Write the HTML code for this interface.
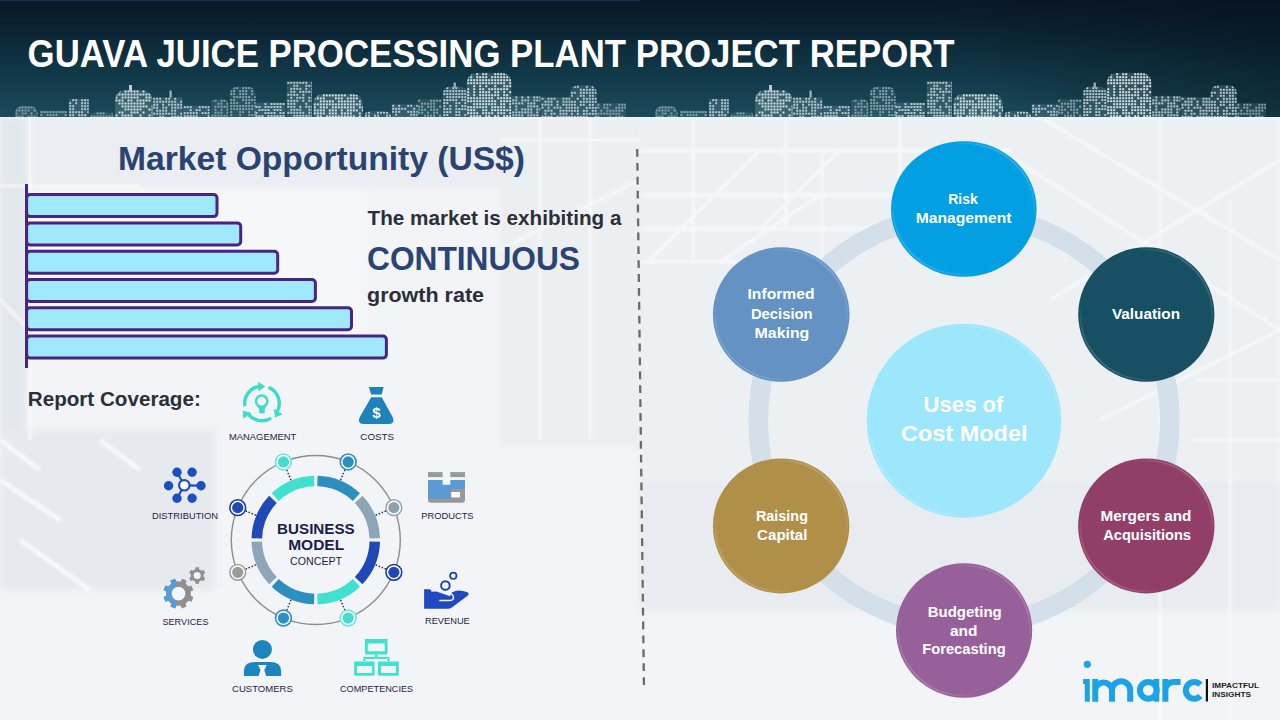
<!DOCTYPE html>
<html><head><meta charset="utf-8">
<style>
html,body{margin:0;padding:0;width:1280px;height:720px;overflow:hidden;background:#f1f3f6;}
svg{display:block;}
text{font-family:"Liberation Sans",sans-serif;}
</style></head>
<body>
<svg width="1280" height="720" viewBox="0 0 1280 720">
<defs>
  <linearGradient id="hdr" x1="0" y1="0" x2="0" y2="1">
    <stop offset="0" stop-color="#0a1828"/>
    <stop offset="0.3" stop-color="#0c2636"/>
    <stop offset="0.6" stop-color="#113747"/>
    <stop offset="1" stop-color="#1b4a5a"/>
  </linearGradient>
  <pattern id="win" width="3" height="3" patternUnits="userSpaceOnUse">
    <rect width="3" height="3" fill="#5f8592"/>
    <rect width="2" height="2" fill="#c4d8de"/>
  </pattern>
  <linearGradient id="bgL" x1="0" y1="0" x2="0" y2="1">
    <stop offset="0" stop-color="#eef1f5"/>
    <stop offset="1" stop-color="#f4f6f8"/>
  </linearGradient>
  <clipPath id="hdrclip"><rect x="0" y="0" width="1280" height="117"/></clipPath>
  <pattern id="wb" width="3" height="3" patternUnits="userSpaceOnUse"><rect width="3" height="3" fill="#2c5866"/><rect width="2" height="2" fill="#d2e2e6"/></pattern>
  <pattern id="wm" width="3" height="3" patternUnits="userSpaceOnUse"><rect width="3" height="3" fill="#24505e"/><rect width="2" height="1.8" fill="#a9c2ca"/></pattern>
  <pattern id="wd" width="3" height="3" patternUnits="userSpaceOnUse"><rect width="3" height="3" fill="#285463"/><rect width="2" height="2" fill="#7d9ea8"/></pattern>
  <filter id="blur6" x="-20%" y="-20%" width="140%" height="140%"><feGaussianBlur stdDeviation="6"/></filter>
  <linearGradient id="bev" x1="0" y1="1" x2="1" y2="0">
    <stop offset="0" stop-color="#ffffff" stop-opacity="0.35"/>
    <stop offset="0.3" stop-color="#ffffff" stop-opacity="0"/>
    <stop offset="0.7" stop-color="#ffffff" stop-opacity="0"/>
    <stop offset="1" stop-color="#ffffff" stop-opacity="0.35"/>
  </linearGradient>
  <filter id="blur3" x="-10%" y="-10%" width="120%" height="120%"><feGaussianBlur stdDeviation="3"/></filter>
  <filter id="blur1" x="-5%" y="-5%" width="110%" height="110%"><feGaussianBlur stdDeviation="1"/></filter>
  <linearGradient id="hdr2" gradientUnits="userSpaceOnUse" x1="1000" y1="110" x2="1200" y2="-40">
    <stop offset="0" stop-color="#050d18" stop-opacity="0"/>
    <stop offset="1" stop-color="#050d18" stop-opacity="0.45"/>
  </linearGradient>
</defs>

<!-- background -->
<rect x="0" y="117" width="1280" height="603" fill="#f2f4f7"/>
<g filter="url(#blur3)">
  <rect x="640" y="117" width="640" height="360" fill="#edf0f3"/>
  <rect x="640" y="480" width="640" height="130" fill="#e8ecf0"/>
  <rect x="0" y="117" width="640" height="70" fill="#eaedf1"/>
  <rect x="0" y="117" width="26" height="460" fill="#e2e7ec"/>
  <rect x="0" y="430" width="215" height="160" fill="#e6eaee"/>
  <rect x="500" y="117" width="140" height="330" fill="#eceff2"/>
  <rect x="34" y="190" width="330" height="170" fill="#f5f7f9"/>
</g>
<g stroke="#f8fafb" fill="none" filter="url(#blur1)" opacity="0.85">
  <path d="M640,150.5 H1010 M640,195 H900 M640,229 H880 M640,262 H760" stroke-width="3.5"/>
  <path d="M693,117 V262 M786,117 V229 M822,150 V262 M900,117 V229" stroke-width="3"/>
  <path d="M650,260 L760,150 M720,262 L820,195 M760,229 L840,150 M1000,150 L1280,330 M1040,117 L1280,260 M1050,300 L1280,160 M1100,420 L1280,330" stroke-width="3"/>
  <path d="M1160,117 V720 M1230,200 V720 M1195,380 H1280 M1195,440 H1280" stroke-width="2.5"/>
  <path d="M0,186 H140 M30,117 V440 M0,300 L30,330 M500,140 H640 M540,117 V440 M590,117 V440 M500,250 L640,180" stroke-width="3"/>
  <path d="M0,440 L40,470 M0,480 L60,520 M20,540 L90,590 M100,440 L140,470" stroke-width="5"/>
</g>
<rect x="640" y="117" width="640" height="2.5" fill="#e6f6fb"/>
<!-- header -->
<rect x="0" y="0" width="1280" height="117" fill="url(#hdr)"/>
<rect x="0" y="0" width="1280" height="117" fill="url(#hdr2)"/>
<rect x="0" y="0" width="640" height="1" fill="#1e2b48"/><rect x="0" y="1" width="640" height="1.5" fill="#0b1736"/>
<g clip-path="url(#hdrclip)"><defs><g id="tile"><clipPath id="b0"><rect x="15" y="106" width="22.50" height="23.00" rx="6.8"/></clipPath><clipPath id="b1"><rect x="40" y="110.6" width="27.50" height="6.40"/></clipPath><clipPath id="b2"><rect x="68.75" y="98.75" width="20.00" height="18.25"/></clipPath><clipPath id="b3"><rect x="90" y="111.9" width="23.75" height="17.10" rx="8.3" ry="3"/></clipPath><clipPath id="b4"><rect x="115" y="90" width="37.50" height="39.00" rx="10.0"/></clipPath><clipPath id="b5"><rect x="152.7" y="97.2" width="29.80" height="19.80"/></clipPath><clipPath id="b6"><rect x="183.2" y="105.6" width="26.60" height="11.40"/></clipPath><clipPath id="b7"><rect x="211" y="99.2" width="17.40" height="29.80" rx="5.2"/></clipPath><clipPath id="b8"><rect x="229.7" y="86.6" width="25.90" height="42.40" rx="7.8"/></clipPath><clipPath id="b9"><rect x="255" y="102.5" width="30.50" height="14.50"/></clipPath><clipPath id="b10"><rect x="286.8" y="81.3" width="25.20" height="35.70"/></clipPath><clipPath id="b11"><rect x="313.3" y="93.9" width="49.70" height="35.10" rx="10.0"/></clipPath><clipPath id="b12"><rect x="364.5" y="111.2" width="26.50" height="17.80" rx="9.3" ry="3"/></clipPath><clipPath id="b13"><rect x="391.7" y="104.3" width="25.90" height="12.70"/></clipPath><clipPath id="b14"><rect x="417.6" y="99.2" width="24.50" height="17.80"/></clipPath><clipPath id="b15"><rect x="442.8" y="86.6" width="23.90" height="42.40" rx="7.2"/></clipPath><clipPath id="b16"><rect x="466.7" y="72.7" width="44.80" height="56.30" rx="10.0"/></clipPath><clipPath id="b17"><rect x="511.8" y="95.9" width="28.60" height="21.10"/></clipPath><clipPath id="b18"><rect x="541" y="97.2" width="29.30" height="19.80"/></clipPath><clipPath id="b19"><rect x="570.3" y="85.3" width="26.50" height="43.70" rx="7.9"/></clipPath><clipPath id="b20"><rect x="596.8" y="103.2" width="29.20" height="13.80"/></clipPath>
<rect x="15" y="106" width="22.50" height="23.00" rx="6.8" fill="#83a2ab" fill-opacity="0.18"/>
<g clip-path="url(#b0)" fill="#83a2ab"><rect x="15.5" y="106.5" width="2" height="2"/><rect x="18.5" y="106.5" width="2" height="2"/><rect x="21.5" y="106.5" width="2" height="2"/><rect x="24.5" y="106.5" width="2" height="2"/><rect x="27.5" y="106.5" width="2" height="2"/><rect x="30.5" y="106.5" width="2" height="2"/><rect x="33.5" y="106.5" width="2" height="2"/><rect x="36.5" y="106.5" width="2" height="2"/><rect x="15.5" y="109.5" width="2" height="2"/><rect x="18.5" y="109.5" width="2" height="2"/><rect x="21.5" y="109.5" width="2" height="2"/><rect x="24.5" y="109.5" width="2" height="2"/><rect x="27.5" y="109.5" width="2" height="2"/><rect x="33.5" y="109.5" width="2" height="2"/><rect x="36.5" y="109.5" width="2" height="2"/><rect x="15.5" y="112.5" width="2" height="2"/><rect x="21.5" y="112.5" width="2" height="2"/><rect x="24.5" y="112.5" width="2" height="2"/><rect x="30.5" y="112.5" width="2" height="2"/><rect x="36.5" y="112.5" width="2" height="2"/><rect x="15.5" y="115.5" width="2" height="2"/><rect x="18.5" y="115.5" width="2" height="2"/><rect x="21.5" y="115.5" width="2" height="2"/><rect x="27.5" y="115.5" width="2" height="2"/><rect x="30.5" y="115.5" width="2" height="2"/><rect x="33.5" y="115.5" width="2" height="2"/><rect x="36.5" y="115.5" width="2" height="2"/></g>
<rect x="40" y="110.6" width="27.50" height="6.40" fill="#83a2ab" fill-opacity="0.18"/>
<g clip-path="url(#b1)" fill="#83a2ab"><rect x="40.5" y="111.1" width="2" height="2"/><rect x="43.5" y="111.1" width="2" height="2"/><rect x="46.5" y="111.1" width="2" height="2"/><rect x="49.5" y="111.1" width="2" height="2"/><rect x="52.5" y="111.1" width="2" height="2"/><rect x="55.5" y="111.1" width="2" height="2"/><rect x="58.5" y="111.1" width="2" height="2"/><rect x="61.5" y="111.1" width="2" height="2"/><rect x="64.5" y="111.1" width="2" height="2"/><rect x="40.5" y="114.1" width="2" height="2"/><rect x="46.5" y="114.1" width="2" height="2"/><rect x="49.5" y="114.1" width="2" height="2"/><rect x="52.5" y="114.1" width="2" height="2"/><rect x="55.5" y="114.1" width="2" height="2"/><rect x="64.5" y="114.1" width="2" height="2"/></g>
<rect x="68.75" y="98.75" width="20.00" height="18.25" fill="#b3c9d0" fill-opacity="0.18"/>
<g clip-path="url(#b2)" fill="#b3c9d0"><rect x="72.2" y="99.2" width="2" height="2"/><rect x="75.2" y="99.2" width="2" height="2"/><rect x="81.2" y="99.2" width="2" height="2"/><rect x="84.2" y="99.2" width="2" height="2"/><rect x="87.2" y="99.2" width="2" height="2"/><rect x="69.2" y="102.2" width="2" height="2"/><rect x="75.2" y="102.2" width="2" height="2"/><rect x="81.2" y="102.2" width="2" height="2"/><rect x="84.2" y="102.2" width="2" height="2"/><rect x="87.2" y="102.2" width="2" height="2"/><rect x="69.2" y="105.2" width="2" height="2"/><rect x="72.2" y="105.2" width="2" height="2"/><rect x="81.2" y="105.2" width="2" height="2"/><rect x="84.2" y="105.2" width="2" height="2"/><rect x="87.2" y="105.2" width="2" height="2"/><rect x="69.2" y="108.2" width="2" height="2"/><rect x="72.2" y="108.2" width="2" height="2"/><rect x="81.2" y="108.2" width="2" height="2"/><rect x="84.2" y="108.2" width="2" height="2"/><rect x="87.2" y="108.2" width="2" height="2"/><rect x="69.2" y="111.2" width="2" height="2"/><rect x="72.2" y="111.2" width="2" height="2"/><rect x="75.2" y="111.2" width="2" height="2"/><rect x="78.2" y="111.2" width="2" height="2"/><rect x="81.2" y="111.2" width="2" height="2"/><rect x="87.2" y="111.2" width="2" height="2"/><rect x="69.2" y="114.2" width="2" height="2"/><rect x="72.2" y="114.2" width="2" height="2"/><rect x="78.2" y="114.2" width="2" height="2"/><rect x="81.2" y="114.2" width="2" height="2"/><rect x="84.2" y="114.2" width="2" height="2"/></g>
<rect x="90" y="111.9" width="23.75" height="17.10" rx="8.3" ry="3" fill="#83a2ab" fill-opacity="0.18"/>
<g clip-path="url(#b3)" fill="#83a2ab"><rect x="96.5" y="112.4" width="2" height="2"/><rect x="99.5" y="112.4" width="2" height="2"/><rect x="102.5" y="112.4" width="2" height="2"/><rect x="111.5" y="112.4" width="2" height="2"/><rect x="90.5" y="115.4" width="2" height="2"/><rect x="93.5" y="115.4" width="2" height="2"/><rect x="96.5" y="115.4" width="2" height="2"/><rect x="99.5" y="115.4" width="2" height="2"/><rect x="102.5" y="115.4" width="2" height="2"/><rect x="105.5" y="115.4" width="2" height="2"/><rect x="108.5" y="115.4" width="2" height="2"/><rect x="111.5" y="115.4" width="2" height="2"/></g>
<rect x="115" y="90" width="37.50" height="39.00" rx="10.0" fill="#d3e2e6" fill-opacity="0.18"/>
<g clip-path="url(#b4)" fill="#d3e2e6"><rect x="115.5" y="90.5" width="2" height="2"/><rect x="118.5" y="90.5" width="2" height="2"/><rect x="124.5" y="90.5" width="2" height="2"/><rect x="127.5" y="90.5" width="2" height="2"/><rect x="130.5" y="90.5" width="2" height="2"/><rect x="133.5" y="90.5" width="2" height="2"/><rect x="136.5" y="90.5" width="2" height="2"/><rect x="142.5" y="90.5" width="2" height="2"/><rect x="151.5" y="90.5" width="2" height="2"/><rect x="115.5" y="93.5" width="2" height="2"/><rect x="118.5" y="93.5" width="2" height="2"/><rect x="121.5" y="93.5" width="2" height="2"/><rect x="124.5" y="93.5" width="2" height="2"/><rect x="127.5" y="93.5" width="2" height="2"/><rect x="130.5" y="93.5" width="2" height="2"/><rect x="133.5" y="93.5" width="2" height="2"/><rect x="136.5" y="93.5" width="2" height="2"/><rect x="139.5" y="93.5" width="2" height="2"/><rect x="142.5" y="93.5" width="2" height="2"/><rect x="145.5" y="93.5" width="2" height="2"/><rect x="148.5" y="93.5" width="2" height="2"/><rect x="151.5" y="93.5" width="2" height="2"/><rect x="115.5" y="96.5" width="2" height="2"/><rect x="121.5" y="96.5" width="2" height="2"/><rect x="124.5" y="96.5" width="2" height="2"/><rect x="127.5" y="96.5" width="2" height="2"/><rect x="130.5" y="96.5" width="2" height="2"/><rect x="133.5" y="96.5" width="2" height="2"/><rect x="136.5" y="96.5" width="2" height="2"/><rect x="145.5" y="96.5" width="2" height="2"/><rect x="148.5" y="96.5" width="2" height="2"/><rect x="151.5" y="96.5" width="2" height="2"/><rect x="115.5" y="99.5" width="2" height="2"/><rect x="118.5" y="99.5" width="2" height="2"/><rect x="121.5" y="99.5" width="2" height="2"/><rect x="127.5" y="99.5" width="2" height="2"/><rect x="130.5" y="99.5" width="2" height="2"/><rect x="136.5" y="99.5" width="2" height="2"/><rect x="139.5" y="99.5" width="2" height="2"/><rect x="142.5" y="99.5" width="2" height="2"/><rect x="145.5" y="99.5" width="2" height="2"/><rect x="148.5" y="99.5" width="2" height="2"/><rect x="118.5" y="102.5" width="2" height="2"/><rect x="121.5" y="102.5" width="2" height="2"/><rect x="124.5" y="102.5" width="2" height="2"/><rect x="127.5" y="102.5" width="2" height="2"/><rect x="130.5" y="102.5" width="2" height="2"/><rect x="133.5" y="102.5" width="2" height="2"/><rect x="136.5" y="102.5" width="2" height="2"/><rect x="139.5" y="102.5" width="2" height="2"/><rect x="142.5" y="102.5" width="2" height="2"/><rect x="121.5" y="105.5" width="2" height="2"/><rect x="124.5" y="105.5" width="2" height="2"/><rect x="127.5" y="105.5" width="2" height="2"/><rect x="130.5" y="105.5" width="2" height="2"/><rect x="133.5" y="105.5" width="2" height="2"/><rect x="136.5" y="105.5" width="2" height="2"/><rect x="139.5" y="105.5" width="2" height="2"/><rect x="142.5" y="105.5" width="2" height="2"/><rect x="145.5" y="105.5" width="2" height="2"/><rect x="151.5" y="105.5" width="2" height="2"/><rect x="124.5" y="108.5" width="2" height="2"/><rect x="127.5" y="108.5" width="2" height="2"/><rect x="130.5" y="108.5" width="2" height="2"/><rect x="133.5" y="108.5" width="2" height="2"/><rect x="136.5" y="108.5" width="2" height="2"/><rect x="139.5" y="108.5" width="2" height="2"/><rect x="148.5" y="108.5" width="2" height="2"/><rect x="151.5" y="108.5" width="2" height="2"/><rect x="118.5" y="111.5" width="2" height="2"/><rect x="121.5" y="111.5" width="2" height="2"/><rect x="130.5" y="111.5" width="2" height="2"/><rect x="133.5" y="111.5" width="2" height="2"/><rect x="136.5" y="111.5" width="2" height="2"/><rect x="142.5" y="111.5" width="2" height="2"/><rect x="151.5" y="111.5" width="2" height="2"/><rect x="115.5" y="114.5" width="2" height="2"/><rect x="121.5" y="114.5" width="2" height="2"/><rect x="124.5" y="114.5" width="2" height="2"/><rect x="127.5" y="114.5" width="2" height="2"/><rect x="130.5" y="114.5" width="2" height="2"/><rect x="139.5" y="114.5" width="2" height="2"/><rect x="148.5" y="114.5" width="2" height="2"/><rect x="151.5" y="114.5" width="2" height="2"/></g>
<rect x="152.7" y="97.2" width="29.80" height="19.80" fill="#b3c9d0" fill-opacity="0.18"/>
<g clip-path="url(#b5)" fill="#b3c9d0"><rect x="153.2" y="97.7" width="2" height="2"/><rect x="156.2" y="97.7" width="2" height="2"/><rect x="159.2" y="97.7" width="2" height="2"/><rect x="165.2" y="97.7" width="2" height="2"/><rect x="168.2" y="97.7" width="2" height="2"/><rect x="174.2" y="97.7" width="2" height="2"/><rect x="153.2" y="100.7" width="2" height="2"/><rect x="156.2" y="100.7" width="2" height="2"/><rect x="159.2" y="100.7" width="2" height="2"/><rect x="162.2" y="100.7" width="2" height="2"/><rect x="165.2" y="100.7" width="2" height="2"/><rect x="168.2" y="100.7" width="2" height="2"/><rect x="171.2" y="100.7" width="2" height="2"/><rect x="174.2" y="100.7" width="2" height="2"/><rect x="180.2" y="100.7" width="2" height="2"/><rect x="153.2" y="103.7" width="2" height="2"/><rect x="156.2" y="103.7" width="2" height="2"/><rect x="162.2" y="103.7" width="2" height="2"/><rect x="168.2" y="103.7" width="2" height="2"/><rect x="171.2" y="103.7" width="2" height="2"/><rect x="174.2" y="103.7" width="2" height="2"/><rect x="177.2" y="103.7" width="2" height="2"/><rect x="180.2" y="103.7" width="2" height="2"/><rect x="153.2" y="106.7" width="2" height="2"/><rect x="156.2" y="106.7" width="2" height="2"/><rect x="162.2" y="106.7" width="2" height="2"/><rect x="165.2" y="106.7" width="2" height="2"/><rect x="171.2" y="106.7" width="2" height="2"/><rect x="174.2" y="106.7" width="2" height="2"/><rect x="177.2" y="106.7" width="2" height="2"/><rect x="180.2" y="106.7" width="2" height="2"/><rect x="156.2" y="109.7" width="2" height="2"/><rect x="159.2" y="109.7" width="2" height="2"/><rect x="162.2" y="109.7" width="2" height="2"/><rect x="165.2" y="109.7" width="2" height="2"/><rect x="171.2" y="109.7" width="2" height="2"/><rect x="174.2" y="109.7" width="2" height="2"/><rect x="153.2" y="112.7" width="2" height="2"/><rect x="156.2" y="112.7" width="2" height="2"/><rect x="159.2" y="112.7" width="2" height="2"/><rect x="162.2" y="112.7" width="2" height="2"/><rect x="165.2" y="112.7" width="2" height="2"/><rect x="168.2" y="112.7" width="2" height="2"/><rect x="171.2" y="112.7" width="2" height="2"/><rect x="174.2" y="112.7" width="2" height="2"/><rect x="180.2" y="112.7" width="2" height="2"/><rect x="159.2" y="115.7" width="2" height="2"/><rect x="162.2" y="115.7" width="2" height="2"/><rect x="171.2" y="115.7" width="2" height="2"/><rect x="174.2" y="115.7" width="2" height="2"/><rect x="177.2" y="115.7" width="2" height="2"/><rect x="180.2" y="115.7" width="2" height="2"/></g>
<rect x="183.2" y="105.6" width="26.60" height="11.40" fill="#b3c9d0" fill-opacity="0.18"/>
<g clip-path="url(#b6)" fill="#b3c9d0"><rect x="183.7" y="106.1" width="2" height="2"/><rect x="186.7" y="106.1" width="2" height="2"/><rect x="189.7" y="106.1" width="2" height="2"/><rect x="198.7" y="106.1" width="2" height="2"/><rect x="201.7" y="106.1" width="2" height="2"/><rect x="204.7" y="106.1" width="2" height="2"/><rect x="207.7" y="106.1" width="2" height="2"/><rect x="189.7" y="109.1" width="2" height="2"/><rect x="195.7" y="109.1" width="2" height="2"/><rect x="198.7" y="109.1" width="2" height="2"/><rect x="207.7" y="109.1" width="2" height="2"/><rect x="183.7" y="112.1" width="2" height="2"/><rect x="186.7" y="112.1" width="2" height="2"/><rect x="189.7" y="112.1" width="2" height="2"/><rect x="192.7" y="112.1" width="2" height="2"/><rect x="195.7" y="112.1" width="2" height="2"/><rect x="201.7" y="112.1" width="2" height="2"/><rect x="204.7" y="112.1" width="2" height="2"/><rect x="207.7" y="112.1" width="2" height="2"/><rect x="183.7" y="115.1" width="2" height="2"/><rect x="186.7" y="115.1" width="2" height="2"/><rect x="189.7" y="115.1" width="2" height="2"/><rect x="192.7" y="115.1" width="2" height="2"/><rect x="195.7" y="115.1" width="2" height="2"/><rect x="207.7" y="115.1" width="2" height="2"/></g>
<rect x="211" y="99.2" width="17.40" height="29.80" rx="5.2" fill="#83a2ab" fill-opacity="0.18"/>
<g clip-path="url(#b7)" fill="#83a2ab"><rect x="211.5" y="99.7" width="2" height="2"/><rect x="214.5" y="99.7" width="2" height="2"/><rect x="220.5" y="99.7" width="2" height="2"/><rect x="223.5" y="99.7" width="2" height="2"/><rect x="226.5" y="99.7" width="2" height="2"/><rect x="217.5" y="102.7" width="2" height="2"/><rect x="220.5" y="102.7" width="2" height="2"/><rect x="226.5" y="102.7" width="2" height="2"/><rect x="214.5" y="105.7" width="2" height="2"/><rect x="217.5" y="105.7" width="2" height="2"/><rect x="220.5" y="105.7" width="2" height="2"/><rect x="223.5" y="105.7" width="2" height="2"/><rect x="226.5" y="105.7" width="2" height="2"/><rect x="214.5" y="108.7" width="2" height="2"/><rect x="220.5" y="108.7" width="2" height="2"/><rect x="226.5" y="108.7" width="2" height="2"/><rect x="214.5" y="111.7" width="2" height="2"/><rect x="217.5" y="111.7" width="2" height="2"/><rect x="220.5" y="111.7" width="2" height="2"/><rect x="226.5" y="111.7" width="2" height="2"/><rect x="211.5" y="114.7" width="2" height="2"/><rect x="214.5" y="114.7" width="2" height="2"/><rect x="217.5" y="114.7" width="2" height="2"/><rect x="220.5" y="114.7" width="2" height="2"/><rect x="223.5" y="114.7" width="2" height="2"/><rect x="226.5" y="114.7" width="2" height="2"/></g>
<rect x="229.7" y="86.6" width="25.90" height="42.40" rx="7.8" fill="#83a2ab" fill-opacity="0.18"/>
<g clip-path="url(#b8)" fill="#83a2ab"><rect x="230.2" y="87.1" width="2" height="2"/><rect x="233.2" y="87.1" width="2" height="2"/><rect x="236.2" y="87.1" width="2" height="2"/><rect x="242.2" y="87.1" width="2" height="2"/><rect x="245.2" y="87.1" width="2" height="2"/><rect x="248.2" y="87.1" width="2" height="2"/><rect x="251.2" y="87.1" width="2" height="2"/><rect x="254.2" y="87.1" width="2" height="2"/><rect x="230.2" y="90.1" width="2" height="2"/><rect x="233.2" y="90.1" width="2" height="2"/><rect x="239.2" y="90.1" width="2" height="2"/><rect x="242.2" y="90.1" width="2" height="2"/><rect x="245.2" y="90.1" width="2" height="2"/><rect x="251.2" y="90.1" width="2" height="2"/><rect x="230.2" y="93.1" width="2" height="2"/><rect x="233.2" y="93.1" width="2" height="2"/><rect x="239.2" y="93.1" width="2" height="2"/><rect x="242.2" y="93.1" width="2" height="2"/><rect x="245.2" y="93.1" width="2" height="2"/><rect x="251.2" y="93.1" width="2" height="2"/><rect x="233.2" y="96.1" width="2" height="2"/><rect x="236.2" y="96.1" width="2" height="2"/><rect x="239.2" y="96.1" width="2" height="2"/><rect x="242.2" y="96.1" width="2" height="2"/><rect x="245.2" y="96.1" width="2" height="2"/><rect x="248.2" y="96.1" width="2" height="2"/><rect x="254.2" y="96.1" width="2" height="2"/><rect x="230.2" y="99.1" width="2" height="2"/><rect x="233.2" y="99.1" width="2" height="2"/><rect x="242.2" y="99.1" width="2" height="2"/><rect x="245.2" y="99.1" width="2" height="2"/><rect x="248.2" y="99.1" width="2" height="2"/><rect x="251.2" y="99.1" width="2" height="2"/><rect x="254.2" y="99.1" width="2" height="2"/><rect x="230.2" y="102.1" width="2" height="2"/><rect x="233.2" y="102.1" width="2" height="2"/><rect x="236.2" y="102.1" width="2" height="2"/><rect x="245.2" y="102.1" width="2" height="2"/><rect x="248.2" y="102.1" width="2" height="2"/><rect x="254.2" y="102.1" width="2" height="2"/><rect x="230.2" y="105.1" width="2" height="2"/><rect x="233.2" y="105.1" width="2" height="2"/><rect x="236.2" y="105.1" width="2" height="2"/><rect x="239.2" y="105.1" width="2" height="2"/><rect x="242.2" y="105.1" width="2" height="2"/><rect x="245.2" y="105.1" width="2" height="2"/><rect x="248.2" y="105.1" width="2" height="2"/><rect x="251.2" y="105.1" width="2" height="2"/><rect x="254.2" y="105.1" width="2" height="2"/><rect x="230.2" y="108.1" width="2" height="2"/><rect x="233.2" y="108.1" width="2" height="2"/><rect x="236.2" y="108.1" width="2" height="2"/><rect x="239.2" y="108.1" width="2" height="2"/><rect x="242.2" y="108.1" width="2" height="2"/><rect x="245.2" y="108.1" width="2" height="2"/><rect x="248.2" y="108.1" width="2" height="2"/><rect x="251.2" y="108.1" width="2" height="2"/><rect x="230.2" y="111.1" width="2" height="2"/><rect x="239.2" y="111.1" width="2" height="2"/><rect x="242.2" y="111.1" width="2" height="2"/><rect x="248.2" y="111.1" width="2" height="2"/><rect x="254.2" y="111.1" width="2" height="2"/><rect x="230.2" y="114.1" width="2" height="2"/><rect x="239.2" y="114.1" width="2" height="2"/><rect x="248.2" y="114.1" width="2" height="2"/><rect x="251.2" y="114.1" width="2" height="2"/><rect x="254.2" y="114.1" width="2" height="2"/></g>
<rect x="255" y="102.5" width="30.50" height="14.50" fill="#b3c9d0" fill-opacity="0.18"/>
<g clip-path="url(#b9)" fill="#b3c9d0"><rect x="264.5" y="103.0" width="2" height="2"/><rect x="270.5" y="103.0" width="2" height="2"/><rect x="273.5" y="103.0" width="2" height="2"/><rect x="276.5" y="103.0" width="2" height="2"/><rect x="279.5" y="103.0" width="2" height="2"/><rect x="282.5" y="103.0" width="2" height="2"/><rect x="255.5" y="106.0" width="2" height="2"/><rect x="258.5" y="106.0" width="2" height="2"/><rect x="264.5" y="106.0" width="2" height="2"/><rect x="267.5" y="106.0" width="2" height="2"/><rect x="270.5" y="106.0" width="2" height="2"/><rect x="273.5" y="106.0" width="2" height="2"/><rect x="276.5" y="106.0" width="2" height="2"/><rect x="279.5" y="106.0" width="2" height="2"/><rect x="258.5" y="109.0" width="2" height="2"/><rect x="261.5" y="109.0" width="2" height="2"/><rect x="264.5" y="109.0" width="2" height="2"/><rect x="267.5" y="109.0" width="2" height="2"/><rect x="273.5" y="109.0" width="2" height="2"/><rect x="276.5" y="109.0" width="2" height="2"/><rect x="279.5" y="109.0" width="2" height="2"/><rect x="255.5" y="112.0" width="2" height="2"/><rect x="264.5" y="112.0" width="2" height="2"/><rect x="267.5" y="112.0" width="2" height="2"/><rect x="270.5" y="112.0" width="2" height="2"/><rect x="273.5" y="112.0" width="2" height="2"/><rect x="279.5" y="112.0" width="2" height="2"/><rect x="282.5" y="112.0" width="2" height="2"/><rect x="255.5" y="115.0" width="2" height="2"/><rect x="258.5" y="115.0" width="2" height="2"/><rect x="261.5" y="115.0" width="2" height="2"/><rect x="267.5" y="115.0" width="2" height="2"/><rect x="270.5" y="115.0" width="2" height="2"/><rect x="273.5" y="115.0" width="2" height="2"/><rect x="276.5" y="115.0" width="2" height="2"/><rect x="279.5" y="115.0" width="2" height="2"/><rect x="282.5" y="115.0" width="2" height="2"/></g>
<rect x="286.8" y="81.3" width="25.20" height="35.70" fill="#b3c9d0" fill-opacity="0.18"/>
<g clip-path="url(#b10)" fill="#b3c9d0"><rect x="287.3" y="81.8" width="2" height="2"/><rect x="290.3" y="81.8" width="2" height="2"/><rect x="293.3" y="81.8" width="2" height="2"/><rect x="296.3" y="81.8" width="2" height="2"/><rect x="299.3" y="81.8" width="2" height="2"/><rect x="302.3" y="81.8" width="2" height="2"/><rect x="305.3" y="81.8" width="2" height="2"/><rect x="311.3" y="81.8" width="2" height="2"/><rect x="293.3" y="84.8" width="2" height="2"/><rect x="296.3" y="84.8" width="2" height="2"/><rect x="305.3" y="84.8" width="2" height="2"/><rect x="308.3" y="84.8" width="2" height="2"/><rect x="311.3" y="84.8" width="2" height="2"/><rect x="290.3" y="87.8" width="2" height="2"/><rect x="293.3" y="87.8" width="2" height="2"/><rect x="296.3" y="87.8" width="2" height="2"/><rect x="299.3" y="87.8" width="2" height="2"/><rect x="305.3" y="87.8" width="2" height="2"/><rect x="311.3" y="87.8" width="2" height="2"/><rect x="290.3" y="90.8" width="2" height="2"/><rect x="293.3" y="90.8" width="2" height="2"/><rect x="299.3" y="90.8" width="2" height="2"/><rect x="302.3" y="90.8" width="2" height="2"/><rect x="305.3" y="90.8" width="2" height="2"/><rect x="308.3" y="90.8" width="2" height="2"/><rect x="311.3" y="90.8" width="2" height="2"/><rect x="287.3" y="93.8" width="2" height="2"/><rect x="290.3" y="93.8" width="2" height="2"/><rect x="293.3" y="93.8" width="2" height="2"/><rect x="296.3" y="93.8" width="2" height="2"/><rect x="302.3" y="93.8" width="2" height="2"/><rect x="311.3" y="93.8" width="2" height="2"/><rect x="290.3" y="96.8" width="2" height="2"/><rect x="296.3" y="96.8" width="2" height="2"/><rect x="299.3" y="96.8" width="2" height="2"/><rect x="302.3" y="96.8" width="2" height="2"/><rect x="308.3" y="96.8" width="2" height="2"/><rect x="311.3" y="96.8" width="2" height="2"/><rect x="287.3" y="99.8" width="2" height="2"/><rect x="290.3" y="99.8" width="2" height="2"/><rect x="293.3" y="99.8" width="2" height="2"/><rect x="296.3" y="99.8" width="2" height="2"/><rect x="302.3" y="99.8" width="2" height="2"/><rect x="308.3" y="99.8" width="2" height="2"/><rect x="311.3" y="99.8" width="2" height="2"/><rect x="287.3" y="102.8" width="2" height="2"/><rect x="290.3" y="102.8" width="2" height="2"/><rect x="293.3" y="102.8" width="2" height="2"/><rect x="305.3" y="102.8" width="2" height="2"/><rect x="287.3" y="105.8" width="2" height="2"/><rect x="290.3" y="105.8" width="2" height="2"/><rect x="293.3" y="105.8" width="2" height="2"/><rect x="299.3" y="105.8" width="2" height="2"/><rect x="305.3" y="105.8" width="2" height="2"/><rect x="308.3" y="105.8" width="2" height="2"/><rect x="311.3" y="105.8" width="2" height="2"/><rect x="290.3" y="108.8" width="2" height="2"/><rect x="293.3" y="108.8" width="2" height="2"/><rect x="296.3" y="108.8" width="2" height="2"/><rect x="299.3" y="108.8" width="2" height="2"/><rect x="308.3" y="108.8" width="2" height="2"/><rect x="311.3" y="108.8" width="2" height="2"/><rect x="287.3" y="111.8" width="2" height="2"/><rect x="290.3" y="111.8" width="2" height="2"/><rect x="293.3" y="111.8" width="2" height="2"/><rect x="296.3" y="111.8" width="2" height="2"/><rect x="299.3" y="111.8" width="2" height="2"/><rect x="302.3" y="111.8" width="2" height="2"/><rect x="308.3" y="111.8" width="2" height="2"/><rect x="311.3" y="111.8" width="2" height="2"/><rect x="293.3" y="114.8" width="2" height="2"/><rect x="296.3" y="114.8" width="2" height="2"/><rect x="299.3" y="114.8" width="2" height="2"/><rect x="302.3" y="114.8" width="2" height="2"/><rect x="305.3" y="114.8" width="2" height="2"/><rect x="308.3" y="114.8" width="2" height="2"/><rect x="311.3" y="114.8" width="2" height="2"/></g>
<rect x="313.3" y="93.9" width="49.70" height="35.10" rx="10.0" fill="#d3e2e6" fill-opacity="0.18"/>
<g clip-path="url(#b11)" fill="#d3e2e6"><rect x="313.8" y="94.4" width="2" height="2"/><rect x="316.8" y="94.4" width="2" height="2"/><rect x="322.8" y="94.4" width="2" height="2"/><rect x="325.8" y="94.4" width="2" height="2"/><rect x="328.8" y="94.4" width="2" height="2"/><rect x="331.8" y="94.4" width="2" height="2"/><rect x="334.8" y="94.4" width="2" height="2"/><rect x="337.8" y="94.4" width="2" height="2"/><rect x="340.8" y="94.4" width="2" height="2"/><rect x="343.8" y="94.4" width="2" height="2"/><rect x="349.8" y="94.4" width="2" height="2"/><rect x="352.8" y="94.4" width="2" height="2"/><rect x="355.8" y="94.4" width="2" height="2"/><rect x="361.8" y="94.4" width="2" height="2"/><rect x="313.8" y="97.4" width="2" height="2"/><rect x="316.8" y="97.4" width="2" height="2"/><rect x="319.8" y="97.4" width="2" height="2"/><rect x="322.8" y="97.4" width="2" height="2"/><rect x="334.8" y="97.4" width="2" height="2"/><rect x="337.8" y="97.4" width="2" height="2"/><rect x="340.8" y="97.4" width="2" height="2"/><rect x="346.8" y="97.4" width="2" height="2"/><rect x="349.8" y="97.4" width="2" height="2"/><rect x="352.8" y="97.4" width="2" height="2"/><rect x="355.8" y="97.4" width="2" height="2"/><rect x="319.8" y="100.4" width="2" height="2"/><rect x="322.8" y="100.4" width="2" height="2"/><rect x="325.8" y="100.4" width="2" height="2"/><rect x="328.8" y="100.4" width="2" height="2"/><rect x="331.8" y="100.4" width="2" height="2"/><rect x="337.8" y="100.4" width="2" height="2"/><rect x="340.8" y="100.4" width="2" height="2"/><rect x="343.8" y="100.4" width="2" height="2"/><rect x="346.8" y="100.4" width="2" height="2"/><rect x="349.8" y="100.4" width="2" height="2"/><rect x="352.8" y="100.4" width="2" height="2"/><rect x="358.8" y="100.4" width="2" height="2"/><rect x="313.8" y="103.4" width="2" height="2"/><rect x="316.8" y="103.4" width="2" height="2"/><rect x="319.8" y="103.4" width="2" height="2"/><rect x="322.8" y="103.4" width="2" height="2"/><rect x="325.8" y="103.4" width="2" height="2"/><rect x="328.8" y="103.4" width="2" height="2"/><rect x="331.8" y="103.4" width="2" height="2"/><rect x="334.8" y="103.4" width="2" height="2"/><rect x="337.8" y="103.4" width="2" height="2"/><rect x="340.8" y="103.4" width="2" height="2"/><rect x="343.8" y="103.4" width="2" height="2"/><rect x="346.8" y="103.4" width="2" height="2"/><rect x="349.8" y="103.4" width="2" height="2"/><rect x="352.8" y="103.4" width="2" height="2"/><rect x="355.8" y="103.4" width="2" height="2"/><rect x="358.8" y="103.4" width="2" height="2"/><rect x="313.8" y="106.4" width="2" height="2"/><rect x="319.8" y="106.4" width="2" height="2"/><rect x="322.8" y="106.4" width="2" height="2"/><rect x="325.8" y="106.4" width="2" height="2"/><rect x="331.8" y="106.4" width="2" height="2"/><rect x="334.8" y="106.4" width="2" height="2"/><rect x="337.8" y="106.4" width="2" height="2"/><rect x="340.8" y="106.4" width="2" height="2"/><rect x="343.8" y="106.4" width="2" height="2"/><rect x="346.8" y="106.4" width="2" height="2"/><rect x="349.8" y="106.4" width="2" height="2"/><rect x="352.8" y="106.4" width="2" height="2"/><rect x="358.8" y="106.4" width="2" height="2"/><rect x="361.8" y="106.4" width="2" height="2"/><rect x="313.8" y="109.4" width="2" height="2"/><rect x="316.8" y="109.4" width="2" height="2"/><rect x="319.8" y="109.4" width="2" height="2"/><rect x="322.8" y="109.4" width="2" height="2"/><rect x="328.8" y="109.4" width="2" height="2"/><rect x="331.8" y="109.4" width="2" height="2"/><rect x="334.8" y="109.4" width="2" height="2"/><rect x="340.8" y="109.4" width="2" height="2"/><rect x="346.8" y="109.4" width="2" height="2"/><rect x="349.8" y="109.4" width="2" height="2"/><rect x="352.8" y="109.4" width="2" height="2"/><rect x="355.8" y="109.4" width="2" height="2"/><rect x="361.8" y="109.4" width="2" height="2"/><rect x="313.8" y="112.4" width="2" height="2"/><rect x="316.8" y="112.4" width="2" height="2"/><rect x="319.8" y="112.4" width="2" height="2"/><rect x="322.8" y="112.4" width="2" height="2"/><rect x="328.8" y="112.4" width="2" height="2"/><rect x="331.8" y="112.4" width="2" height="2"/><rect x="334.8" y="112.4" width="2" height="2"/><rect x="340.8" y="112.4" width="2" height="2"/><rect x="343.8" y="112.4" width="2" height="2"/><rect x="346.8" y="112.4" width="2" height="2"/><rect x="349.8" y="112.4" width="2" height="2"/><rect x="358.8" y="112.4" width="2" height="2"/><rect x="316.8" y="115.4" width="2" height="2"/><rect x="319.8" y="115.4" width="2" height="2"/><rect x="325.8" y="115.4" width="2" height="2"/><rect x="328.8" y="115.4" width="2" height="2"/><rect x="331.8" y="115.4" width="2" height="2"/><rect x="334.8" y="115.4" width="2" height="2"/><rect x="337.8" y="115.4" width="2" height="2"/><rect x="340.8" y="115.4" width="2" height="2"/><rect x="343.8" y="115.4" width="2" height="2"/><rect x="346.8" y="115.4" width="2" height="2"/><rect x="349.8" y="115.4" width="2" height="2"/><rect x="352.8" y="115.4" width="2" height="2"/><rect x="358.8" y="115.4" width="2" height="2"/></g>
<rect x="364.5" y="111.2" width="26.50" height="17.80" rx="9.3" ry="3" fill="#b3c9d0" fill-opacity="0.18"/>
<g clip-path="url(#b12)" fill="#b3c9d0"><rect x="365.0" y="111.7" width="2" height="2"/><rect x="368.0" y="111.7" width="2" height="2"/><rect x="377.0" y="111.7" width="2" height="2"/><rect x="380.0" y="111.7" width="2" height="2"/><rect x="383.0" y="111.7" width="2" height="2"/><rect x="386.0" y="111.7" width="2" height="2"/><rect x="365.0" y="114.7" width="2" height="2"/><rect x="368.0" y="114.7" width="2" height="2"/><rect x="374.0" y="114.7" width="2" height="2"/><rect x="377.0" y="114.7" width="2" height="2"/><rect x="386.0" y="114.7" width="2" height="2"/><rect x="389.0" y="114.7" width="2" height="2"/></g>
<rect x="391.7" y="104.3" width="25.90" height="12.70" fill="#b3c9d0" fill-opacity="0.18"/>
<g clip-path="url(#b13)" fill="#b3c9d0"><rect x="392.2" y="104.8" width="2" height="2"/><rect x="398.2" y="104.8" width="2" height="2"/><rect x="407.2" y="104.8" width="2" height="2"/><rect x="410.2" y="104.8" width="2" height="2"/><rect x="416.2" y="104.8" width="2" height="2"/><rect x="392.2" y="107.8" width="2" height="2"/><rect x="395.2" y="107.8" width="2" height="2"/><rect x="398.2" y="107.8" width="2" height="2"/><rect x="401.2" y="107.8" width="2" height="2"/><rect x="404.2" y="107.8" width="2" height="2"/><rect x="413.2" y="107.8" width="2" height="2"/><rect x="392.2" y="110.8" width="2" height="2"/><rect x="395.2" y="110.8" width="2" height="2"/><rect x="398.2" y="110.8" width="2" height="2"/><rect x="407.2" y="110.8" width="2" height="2"/><rect x="410.2" y="110.8" width="2" height="2"/><rect x="413.2" y="110.8" width="2" height="2"/><rect x="416.2" y="110.8" width="2" height="2"/><rect x="395.2" y="113.8" width="2" height="2"/><rect x="410.2" y="113.8" width="2" height="2"/><rect x="413.2" y="113.8" width="2" height="2"/><rect x="416.2" y="113.8" width="2" height="2"/><rect x="392.2" y="116.8" width="2" height="2"/><rect x="398.2" y="116.8" width="2" height="2"/><rect x="401.2" y="116.8" width="2" height="2"/><rect x="407.2" y="116.8" width="2" height="2"/><rect x="410.2" y="116.8" width="2" height="2"/><rect x="413.2" y="116.8" width="2" height="2"/><rect x="416.2" y="116.8" width="2" height="2"/></g>
<rect x="417.6" y="99.2" width="24.50" height="17.80" fill="#83a2ab" fill-opacity="0.18"/>
<g clip-path="url(#b14)" fill="#83a2ab"><rect x="418.1" y="99.7" width="2" height="2"/><rect x="430.1" y="99.7" width="2" height="2"/><rect x="433.1" y="99.7" width="2" height="2"/><rect x="436.1" y="99.7" width="2" height="2"/><rect x="439.1" y="99.7" width="2" height="2"/><rect x="421.1" y="102.7" width="2" height="2"/><rect x="424.1" y="102.7" width="2" height="2"/><rect x="427.1" y="102.7" width="2" height="2"/><rect x="430.1" y="102.7" width="2" height="2"/><rect x="433.1" y="102.7" width="2" height="2"/><rect x="418.1" y="105.7" width="2" height="2"/><rect x="421.1" y="105.7" width="2" height="2"/><rect x="427.1" y="105.7" width="2" height="2"/><rect x="430.1" y="105.7" width="2" height="2"/><rect x="433.1" y="105.7" width="2" height="2"/><rect x="439.1" y="105.7" width="2" height="2"/><rect x="418.1" y="108.7" width="2" height="2"/><rect x="421.1" y="108.7" width="2" height="2"/><rect x="424.1" y="108.7" width="2" height="2"/><rect x="430.1" y="108.7" width="2" height="2"/><rect x="433.1" y="108.7" width="2" height="2"/><rect x="436.1" y="108.7" width="2" height="2"/><rect x="418.1" y="111.7" width="2" height="2"/><rect x="421.1" y="111.7" width="2" height="2"/><rect x="427.1" y="111.7" width="2" height="2"/><rect x="433.1" y="111.7" width="2" height="2"/><rect x="436.1" y="111.7" width="2" height="2"/><rect x="424.1" y="114.7" width="2" height="2"/><rect x="427.1" y="114.7" width="2" height="2"/><rect x="430.1" y="114.7" width="2" height="2"/><rect x="433.1" y="114.7" width="2" height="2"/><rect x="439.1" y="114.7" width="2" height="2"/></g>
<rect x="442.8" y="86.6" width="23.90" height="42.40" rx="7.2" fill="#b3c9d0" fill-opacity="0.18"/>
<g clip-path="url(#b15)" fill="#b3c9d0"><rect x="446.3" y="87.1" width="2" height="2"/><rect x="452.3" y="87.1" width="2" height="2"/><rect x="455.3" y="87.1" width="2" height="2"/><rect x="464.3" y="87.1" width="2" height="2"/><rect x="443.3" y="90.1" width="2" height="2"/><rect x="446.3" y="90.1" width="2" height="2"/><rect x="449.3" y="90.1" width="2" height="2"/><rect x="452.3" y="90.1" width="2" height="2"/><rect x="455.3" y="90.1" width="2" height="2"/><rect x="458.3" y="90.1" width="2" height="2"/><rect x="461.3" y="90.1" width="2" height="2"/><rect x="464.3" y="90.1" width="2" height="2"/><rect x="443.3" y="93.1" width="2" height="2"/><rect x="446.3" y="93.1" width="2" height="2"/><rect x="449.3" y="93.1" width="2" height="2"/><rect x="452.3" y="93.1" width="2" height="2"/><rect x="455.3" y="93.1" width="2" height="2"/><rect x="458.3" y="93.1" width="2" height="2"/><rect x="461.3" y="93.1" width="2" height="2"/><rect x="464.3" y="93.1" width="2" height="2"/><rect x="446.3" y="96.1" width="2" height="2"/><rect x="449.3" y="96.1" width="2" height="2"/><rect x="452.3" y="96.1" width="2" height="2"/><rect x="455.3" y="96.1" width="2" height="2"/><rect x="458.3" y="96.1" width="2" height="2"/><rect x="461.3" y="96.1" width="2" height="2"/><rect x="464.3" y="96.1" width="2" height="2"/><rect x="443.3" y="99.1" width="2" height="2"/><rect x="446.3" y="99.1" width="2" height="2"/><rect x="449.3" y="99.1" width="2" height="2"/><rect x="452.3" y="99.1" width="2" height="2"/><rect x="455.3" y="99.1" width="2" height="2"/><rect x="461.3" y="99.1" width="2" height="2"/><rect x="464.3" y="99.1" width="2" height="2"/><rect x="443.3" y="102.1" width="2" height="2"/><rect x="446.3" y="102.1" width="2" height="2"/><rect x="455.3" y="102.1" width="2" height="2"/><rect x="458.3" y="102.1" width="2" height="2"/><rect x="464.3" y="102.1" width="2" height="2"/><rect x="443.3" y="105.1" width="2" height="2"/><rect x="449.3" y="105.1" width="2" height="2"/><rect x="455.3" y="105.1" width="2" height="2"/><rect x="461.3" y="105.1" width="2" height="2"/><rect x="464.3" y="105.1" width="2" height="2"/><rect x="443.3" y="108.1" width="2" height="2"/><rect x="446.3" y="108.1" width="2" height="2"/><rect x="449.3" y="108.1" width="2" height="2"/><rect x="455.3" y="108.1" width="2" height="2"/><rect x="458.3" y="108.1" width="2" height="2"/><rect x="461.3" y="108.1" width="2" height="2"/><rect x="464.3" y="108.1" width="2" height="2"/><rect x="443.3" y="111.1" width="2" height="2"/><rect x="446.3" y="111.1" width="2" height="2"/><rect x="449.3" y="111.1" width="2" height="2"/><rect x="455.3" y="111.1" width="2" height="2"/><rect x="458.3" y="111.1" width="2" height="2"/><rect x="443.3" y="114.1" width="2" height="2"/><rect x="446.3" y="114.1" width="2" height="2"/><rect x="455.3" y="114.1" width="2" height="2"/><rect x="458.3" y="114.1" width="2" height="2"/><rect x="464.3" y="114.1" width="2" height="2"/></g>
<rect x="466.7" y="72.7" width="44.80" height="56.30" rx="10.0" fill="#d3e2e6" fill-opacity="0.18"/>
<g clip-path="url(#b16)" fill="#d3e2e6"><rect x="470.2" y="73.2" width="2" height="2"/><rect x="476.2" y="73.2" width="2" height="2"/><rect x="482.2" y="73.2" width="2" height="2"/><rect x="485.2" y="73.2" width="2" height="2"/><rect x="494.2" y="73.2" width="2" height="2"/><rect x="497.2" y="73.2" width="2" height="2"/><rect x="500.2" y="73.2" width="2" height="2"/><rect x="503.2" y="73.2" width="2" height="2"/><rect x="506.2" y="73.2" width="2" height="2"/><rect x="509.2" y="73.2" width="2" height="2"/><rect x="467.2" y="76.2" width="2" height="2"/><rect x="470.2" y="76.2" width="2" height="2"/><rect x="476.2" y="76.2" width="2" height="2"/><rect x="479.2" y="76.2" width="2" height="2"/><rect x="482.2" y="76.2" width="2" height="2"/><rect x="485.2" y="76.2" width="2" height="2"/><rect x="491.2" y="76.2" width="2" height="2"/><rect x="494.2" y="76.2" width="2" height="2"/><rect x="497.2" y="76.2" width="2" height="2"/><rect x="500.2" y="76.2" width="2" height="2"/><rect x="503.2" y="76.2" width="2" height="2"/><rect x="506.2" y="76.2" width="2" height="2"/><rect x="509.2" y="76.2" width="2" height="2"/><rect x="467.2" y="79.2" width="2" height="2"/><rect x="470.2" y="79.2" width="2" height="2"/><rect x="473.2" y="79.2" width="2" height="2"/><rect x="476.2" y="79.2" width="2" height="2"/><rect x="479.2" y="79.2" width="2" height="2"/><rect x="482.2" y="79.2" width="2" height="2"/><rect x="485.2" y="79.2" width="2" height="2"/><rect x="488.2" y="79.2" width="2" height="2"/><rect x="491.2" y="79.2" width="2" height="2"/><rect x="494.2" y="79.2" width="2" height="2"/><rect x="497.2" y="79.2" width="2" height="2"/><rect x="500.2" y="79.2" width="2" height="2"/><rect x="503.2" y="79.2" width="2" height="2"/><rect x="506.2" y="79.2" width="2" height="2"/><rect x="509.2" y="79.2" width="2" height="2"/><rect x="467.2" y="82.2" width="2" height="2"/><rect x="470.2" y="82.2" width="2" height="2"/><rect x="473.2" y="82.2" width="2" height="2"/><rect x="476.2" y="82.2" width="2" height="2"/><rect x="479.2" y="82.2" width="2" height="2"/><rect x="482.2" y="82.2" width="2" height="2"/><rect x="485.2" y="82.2" width="2" height="2"/><rect x="488.2" y="82.2" width="2" height="2"/><rect x="491.2" y="82.2" width="2" height="2"/><rect x="494.2" y="82.2" width="2" height="2"/><rect x="497.2" y="82.2" width="2" height="2"/><rect x="500.2" y="82.2" width="2" height="2"/><rect x="503.2" y="82.2" width="2" height="2"/><rect x="509.2" y="82.2" width="2" height="2"/><rect x="473.2" y="85.2" width="2" height="2"/><rect x="479.2" y="85.2" width="2" height="2"/><rect x="485.2" y="85.2" width="2" height="2"/><rect x="494.2" y="85.2" width="2" height="2"/><rect x="503.2" y="85.2" width="2" height="2"/><rect x="506.2" y="85.2" width="2" height="2"/><rect x="509.2" y="85.2" width="2" height="2"/><rect x="467.2" y="88.2" width="2" height="2"/><rect x="473.2" y="88.2" width="2" height="2"/><rect x="479.2" y="88.2" width="2" height="2"/><rect x="482.2" y="88.2" width="2" height="2"/><rect x="488.2" y="88.2" width="2" height="2"/><rect x="491.2" y="88.2" width="2" height="2"/><rect x="494.2" y="88.2" width="2" height="2"/><rect x="497.2" y="88.2" width="2" height="2"/><rect x="500.2" y="88.2" width="2" height="2"/><rect x="503.2" y="88.2" width="2" height="2"/><rect x="506.2" y="88.2" width="2" height="2"/><rect x="467.2" y="91.2" width="2" height="2"/><rect x="473.2" y="91.2" width="2" height="2"/><rect x="479.2" y="91.2" width="2" height="2"/><rect x="482.2" y="91.2" width="2" height="2"/><rect x="485.2" y="91.2" width="2" height="2"/><rect x="488.2" y="91.2" width="2" height="2"/><rect x="494.2" y="91.2" width="2" height="2"/><rect x="497.2" y="91.2" width="2" height="2"/><rect x="503.2" y="91.2" width="2" height="2"/><rect x="509.2" y="91.2" width="2" height="2"/><rect x="467.2" y="94.2" width="2" height="2"/><rect x="473.2" y="94.2" width="2" height="2"/><rect x="479.2" y="94.2" width="2" height="2"/><rect x="482.2" y="94.2" width="2" height="2"/><rect x="485.2" y="94.2" width="2" height="2"/><rect x="488.2" y="94.2" width="2" height="2"/><rect x="491.2" y="94.2" width="2" height="2"/><rect x="494.2" y="94.2" width="2" height="2"/><rect x="497.2" y="94.2" width="2" height="2"/><rect x="503.2" y="94.2" width="2" height="2"/><rect x="506.2" y="94.2" width="2" height="2"/><rect x="467.2" y="97.2" width="2" height="2"/><rect x="470.2" y="97.2" width="2" height="2"/><rect x="473.2" y="97.2" width="2" height="2"/><rect x="476.2" y="97.2" width="2" height="2"/><rect x="479.2" y="97.2" width="2" height="2"/><rect x="482.2" y="97.2" width="2" height="2"/><rect x="485.2" y="97.2" width="2" height="2"/><rect x="488.2" y="97.2" width="2" height="2"/><rect x="491.2" y="97.2" width="2" height="2"/><rect x="497.2" y="97.2" width="2" height="2"/><rect x="500.2" y="97.2" width="2" height="2"/><rect x="503.2" y="97.2" width="2" height="2"/><rect x="506.2" y="97.2" width="2" height="2"/><rect x="509.2" y="97.2" width="2" height="2"/><rect x="467.2" y="100.2" width="2" height="2"/><rect x="470.2" y="100.2" width="2" height="2"/><rect x="473.2" y="100.2" width="2" height="2"/><rect x="476.2" y="100.2" width="2" height="2"/><rect x="479.2" y="100.2" width="2" height="2"/><rect x="482.2" y="100.2" width="2" height="2"/><rect x="485.2" y="100.2" width="2" height="2"/><rect x="488.2" y="100.2" width="2" height="2"/><rect x="491.2" y="100.2" width="2" height="2"/><rect x="494.2" y="100.2" width="2" height="2"/><rect x="500.2" y="100.2" width="2" height="2"/><rect x="503.2" y="100.2" width="2" height="2"/><rect x="506.2" y="100.2" width="2" height="2"/><rect x="509.2" y="100.2" width="2" height="2"/><rect x="473.2" y="103.2" width="2" height="2"/><rect x="476.2" y="103.2" width="2" height="2"/><rect x="479.2" y="103.2" width="2" height="2"/><rect x="482.2" y="103.2" width="2" height="2"/><rect x="485.2" y="103.2" width="2" height="2"/><rect x="488.2" y="103.2" width="2" height="2"/><rect x="491.2" y="103.2" width="2" height="2"/><rect x="494.2" y="103.2" width="2" height="2"/><rect x="500.2" y="103.2" width="2" height="2"/><rect x="503.2" y="103.2" width="2" height="2"/><rect x="509.2" y="103.2" width="2" height="2"/><rect x="467.2" y="106.2" width="2" height="2"/><rect x="470.2" y="106.2" width="2" height="2"/><rect x="473.2" y="106.2" width="2" height="2"/><rect x="476.2" y="106.2" width="2" height="2"/><rect x="479.2" y="106.2" width="2" height="2"/><rect x="482.2" y="106.2" width="2" height="2"/><rect x="485.2" y="106.2" width="2" height="2"/><rect x="491.2" y="106.2" width="2" height="2"/><rect x="494.2" y="106.2" width="2" height="2"/><rect x="497.2" y="106.2" width="2" height="2"/><rect x="500.2" y="106.2" width="2" height="2"/><rect x="503.2" y="106.2" width="2" height="2"/><rect x="509.2" y="106.2" width="2" height="2"/><rect x="467.2" y="109.2" width="2" height="2"/><rect x="470.2" y="109.2" width="2" height="2"/><rect x="473.2" y="109.2" width="2" height="2"/><rect x="482.2" y="109.2" width="2" height="2"/><rect x="485.2" y="109.2" width="2" height="2"/><rect x="491.2" y="109.2" width="2" height="2"/><rect x="494.2" y="109.2" width="2" height="2"/><rect x="497.2" y="109.2" width="2" height="2"/><rect x="500.2" y="109.2" width="2" height="2"/><rect x="503.2" y="109.2" width="2" height="2"/><rect x="506.2" y="109.2" width="2" height="2"/><rect x="509.2" y="109.2" width="2" height="2"/><rect x="467.2" y="112.2" width="2" height="2"/><rect x="470.2" y="112.2" width="2" height="2"/><rect x="473.2" y="112.2" width="2" height="2"/><rect x="476.2" y="112.2" width="2" height="2"/><rect x="482.2" y="112.2" width="2" height="2"/><rect x="485.2" y="112.2" width="2" height="2"/><rect x="488.2" y="112.2" width="2" height="2"/><rect x="491.2" y="112.2" width="2" height="2"/><rect x="497.2" y="112.2" width="2" height="2"/><rect x="500.2" y="112.2" width="2" height="2"/><rect x="503.2" y="112.2" width="2" height="2"/><rect x="509.2" y="112.2" width="2" height="2"/><rect x="470.2" y="115.2" width="2" height="2"/><rect x="473.2" y="115.2" width="2" height="2"/><rect x="476.2" y="115.2" width="2" height="2"/><rect x="479.2" y="115.2" width="2" height="2"/><rect x="485.2" y="115.2" width="2" height="2"/><rect x="488.2" y="115.2" width="2" height="2"/><rect x="494.2" y="115.2" width="2" height="2"/><rect x="497.2" y="115.2" width="2" height="2"/><rect x="503.2" y="115.2" width="2" height="2"/><rect x="506.2" y="115.2" width="2" height="2"/><rect x="509.2" y="115.2" width="2" height="2"/></g>
<rect x="511.8" y="95.9" width="28.60" height="21.10" fill="#b3c9d0" fill-opacity="0.18"/>
<g clip-path="url(#b17)" fill="#b3c9d0"><rect x="515.3" y="96.4" width="2" height="2"/><rect x="521.3" y="96.4" width="2" height="2"/><rect x="527.3" y="96.4" width="2" height="2"/><rect x="533.3" y="96.4" width="2" height="2"/><rect x="536.3" y="96.4" width="2" height="2"/><rect x="539.3" y="96.4" width="2" height="2"/><rect x="512.3" y="99.4" width="2" height="2"/><rect x="515.3" y="99.4" width="2" height="2"/><rect x="521.3" y="99.4" width="2" height="2"/><rect x="524.3" y="99.4" width="2" height="2"/><rect x="527.3" y="99.4" width="2" height="2"/><rect x="533.3" y="99.4" width="2" height="2"/><rect x="536.3" y="99.4" width="2" height="2"/><rect x="539.3" y="99.4" width="2" height="2"/><rect x="512.3" y="102.4" width="2" height="2"/><rect x="515.3" y="102.4" width="2" height="2"/><rect x="518.3" y="102.4" width="2" height="2"/><rect x="521.3" y="102.4" width="2" height="2"/><rect x="527.3" y="102.4" width="2" height="2"/><rect x="530.3" y="102.4" width="2" height="2"/><rect x="533.3" y="102.4" width="2" height="2"/><rect x="515.3" y="105.4" width="2" height="2"/><rect x="527.3" y="105.4" width="2" height="2"/><rect x="530.3" y="105.4" width="2" height="2"/><rect x="533.3" y="105.4" width="2" height="2"/><rect x="536.3" y="105.4" width="2" height="2"/><rect x="515.3" y="108.4" width="2" height="2"/><rect x="521.3" y="108.4" width="2" height="2"/><rect x="524.3" y="108.4" width="2" height="2"/><rect x="527.3" y="108.4" width="2" height="2"/><rect x="530.3" y="108.4" width="2" height="2"/><rect x="536.3" y="108.4" width="2" height="2"/><rect x="539.3" y="108.4" width="2" height="2"/><rect x="512.3" y="111.4" width="2" height="2"/><rect x="515.3" y="111.4" width="2" height="2"/><rect x="518.3" y="111.4" width="2" height="2"/><rect x="521.3" y="111.4" width="2" height="2"/><rect x="524.3" y="111.4" width="2" height="2"/><rect x="527.3" y="111.4" width="2" height="2"/><rect x="530.3" y="111.4" width="2" height="2"/><rect x="536.3" y="111.4" width="2" height="2"/><rect x="512.3" y="114.4" width="2" height="2"/><rect x="515.3" y="114.4" width="2" height="2"/><rect x="518.3" y="114.4" width="2" height="2"/><rect x="521.3" y="114.4" width="2" height="2"/><rect x="527.3" y="114.4" width="2" height="2"/><rect x="530.3" y="114.4" width="2" height="2"/><rect x="533.3" y="114.4" width="2" height="2"/><rect x="536.3" y="114.4" width="2" height="2"/></g>
<rect x="541" y="97.2" width="29.30" height="19.80" fill="#b3c9d0" fill-opacity="0.18"/>
<g clip-path="url(#b18)" fill="#b3c9d0"><rect x="541.5" y="97.7" width="2" height="2"/><rect x="547.5" y="97.7" width="2" height="2"/><rect x="550.5" y="97.7" width="2" height="2"/><rect x="553.5" y="97.7" width="2" height="2"/><rect x="562.5" y="97.7" width="2" height="2"/><rect x="565.5" y="97.7" width="2" height="2"/><rect x="568.5" y="97.7" width="2" height="2"/><rect x="544.5" y="100.7" width="2" height="2"/><rect x="547.5" y="100.7" width="2" height="2"/><rect x="550.5" y="100.7" width="2" height="2"/><rect x="556.5" y="100.7" width="2" height="2"/><rect x="562.5" y="100.7" width="2" height="2"/><rect x="565.5" y="100.7" width="2" height="2"/><rect x="568.5" y="100.7" width="2" height="2"/><rect x="541.5" y="103.7" width="2" height="2"/><rect x="544.5" y="103.7" width="2" height="2"/><rect x="547.5" y="103.7" width="2" height="2"/><rect x="550.5" y="103.7" width="2" height="2"/><rect x="556.5" y="103.7" width="2" height="2"/><rect x="562.5" y="103.7" width="2" height="2"/><rect x="565.5" y="103.7" width="2" height="2"/><rect x="568.5" y="103.7" width="2" height="2"/><rect x="541.5" y="106.7" width="2" height="2"/><rect x="547.5" y="106.7" width="2" height="2"/><rect x="553.5" y="106.7" width="2" height="2"/><rect x="556.5" y="106.7" width="2" height="2"/><rect x="559.5" y="106.7" width="2" height="2"/><rect x="565.5" y="106.7" width="2" height="2"/><rect x="568.5" y="106.7" width="2" height="2"/><rect x="544.5" y="109.7" width="2" height="2"/><rect x="547.5" y="109.7" width="2" height="2"/><rect x="550.5" y="109.7" width="2" height="2"/><rect x="559.5" y="109.7" width="2" height="2"/><rect x="562.5" y="109.7" width="2" height="2"/><rect x="565.5" y="109.7" width="2" height="2"/><rect x="568.5" y="109.7" width="2" height="2"/><rect x="544.5" y="112.7" width="2" height="2"/><rect x="550.5" y="112.7" width="2" height="2"/><rect x="553.5" y="112.7" width="2" height="2"/><rect x="559.5" y="112.7" width="2" height="2"/><rect x="562.5" y="112.7" width="2" height="2"/><rect x="565.5" y="112.7" width="2" height="2"/><rect x="541.5" y="115.7" width="2" height="2"/><rect x="544.5" y="115.7" width="2" height="2"/><rect x="547.5" y="115.7" width="2" height="2"/><rect x="550.5" y="115.7" width="2" height="2"/><rect x="556.5" y="115.7" width="2" height="2"/><rect x="559.5" y="115.7" width="2" height="2"/><rect x="562.5" y="115.7" width="2" height="2"/><rect x="565.5" y="115.7" width="2" height="2"/><rect x="568.5" y="115.7" width="2" height="2"/></g>
<rect x="570.3" y="85.3" width="26.50" height="43.70" rx="7.9" fill="#b3c9d0" fill-opacity="0.18"/>
<g clip-path="url(#b19)" fill="#b3c9d0"><rect x="570.8" y="85.8" width="2" height="2"/><rect x="573.8" y="85.8" width="2" height="2"/><rect x="576.8" y="85.8" width="2" height="2"/><rect x="585.8" y="85.8" width="2" height="2"/><rect x="591.8" y="85.8" width="2" height="2"/><rect x="594.8" y="85.8" width="2" height="2"/><rect x="579.8" y="88.8" width="2" height="2"/><rect x="582.8" y="88.8" width="2" height="2"/><rect x="585.8" y="88.8" width="2" height="2"/><rect x="588.8" y="88.8" width="2" height="2"/><rect x="591.8" y="88.8" width="2" height="2"/><rect x="594.8" y="88.8" width="2" height="2"/><rect x="570.8" y="91.8" width="2" height="2"/><rect x="573.8" y="91.8" width="2" height="2"/><rect x="579.8" y="91.8" width="2" height="2"/><rect x="582.8" y="91.8" width="2" height="2"/><rect x="585.8" y="91.8" width="2" height="2"/><rect x="588.8" y="91.8" width="2" height="2"/><rect x="591.8" y="91.8" width="2" height="2"/><rect x="594.8" y="91.8" width="2" height="2"/><rect x="570.8" y="94.8" width="2" height="2"/><rect x="579.8" y="94.8" width="2" height="2"/><rect x="582.8" y="94.8" width="2" height="2"/><rect x="588.8" y="94.8" width="2" height="2"/><rect x="591.8" y="94.8" width="2" height="2"/><rect x="576.8" y="97.8" width="2" height="2"/><rect x="582.8" y="97.8" width="2" height="2"/><rect x="585.8" y="97.8" width="2" height="2"/><rect x="588.8" y="97.8" width="2" height="2"/><rect x="591.8" y="97.8" width="2" height="2"/><rect x="594.8" y="97.8" width="2" height="2"/><rect x="570.8" y="100.8" width="2" height="2"/><rect x="573.8" y="100.8" width="2" height="2"/><rect x="579.8" y="100.8" width="2" height="2"/><rect x="582.8" y="100.8" width="2" height="2"/><rect x="585.8" y="100.8" width="2" height="2"/><rect x="588.8" y="100.8" width="2" height="2"/><rect x="591.8" y="100.8" width="2" height="2"/><rect x="594.8" y="100.8" width="2" height="2"/><rect x="570.8" y="103.8" width="2" height="2"/><rect x="573.8" y="103.8" width="2" height="2"/><rect x="579.8" y="103.8" width="2" height="2"/><rect x="582.8" y="103.8" width="2" height="2"/><rect x="588.8" y="103.8" width="2" height="2"/><rect x="591.8" y="103.8" width="2" height="2"/><rect x="570.8" y="106.8" width="2" height="2"/><rect x="573.8" y="106.8" width="2" height="2"/><rect x="576.8" y="106.8" width="2" height="2"/><rect x="585.8" y="106.8" width="2" height="2"/><rect x="588.8" y="106.8" width="2" height="2"/><rect x="591.8" y="106.8" width="2" height="2"/><rect x="594.8" y="106.8" width="2" height="2"/><rect x="570.8" y="109.8" width="2" height="2"/><rect x="573.8" y="109.8" width="2" height="2"/><rect x="576.8" y="109.8" width="2" height="2"/><rect x="582.8" y="109.8" width="2" height="2"/><rect x="585.8" y="109.8" width="2" height="2"/><rect x="591.8" y="109.8" width="2" height="2"/><rect x="594.8" y="109.8" width="2" height="2"/><rect x="570.8" y="112.8" width="2" height="2"/><rect x="576.8" y="112.8" width="2" height="2"/><rect x="582.8" y="112.8" width="2" height="2"/><rect x="585.8" y="112.8" width="2" height="2"/><rect x="588.8" y="112.8" width="2" height="2"/><rect x="591.8" y="112.8" width="2" height="2"/><rect x="594.8" y="112.8" width="2" height="2"/><rect x="570.8" y="115.8" width="2" height="2"/><rect x="573.8" y="115.8" width="2" height="2"/><rect x="576.8" y="115.8" width="2" height="2"/><rect x="579.8" y="115.8" width="2" height="2"/><rect x="582.8" y="115.8" width="2" height="2"/><rect x="585.8" y="115.8" width="2" height="2"/><rect x="594.8" y="115.8" width="2" height="2"/></g>
<rect x="596.8" y="103.2" width="29.20" height="13.80" fill="#83a2ab" fill-opacity="0.18"/>
<g clip-path="url(#b20)" fill="#83a2ab"><rect x="597.3" y="103.7" width="2" height="2"/><rect x="603.3" y="103.7" width="2" height="2"/><rect x="606.3" y="103.7" width="2" height="2"/><rect x="609.3" y="103.7" width="2" height="2"/><rect x="618.3" y="103.7" width="2" height="2"/><rect x="621.3" y="103.7" width="2" height="2"/><rect x="624.3" y="103.7" width="2" height="2"/><rect x="597.3" y="106.7" width="2" height="2"/><rect x="603.3" y="106.7" width="2" height="2"/><rect x="606.3" y="106.7" width="2" height="2"/><rect x="615.3" y="106.7" width="2" height="2"/><rect x="618.3" y="106.7" width="2" height="2"/><rect x="621.3" y="106.7" width="2" height="2"/><rect x="624.3" y="106.7" width="2" height="2"/><rect x="600.3" y="109.7" width="2" height="2"/><rect x="606.3" y="109.7" width="2" height="2"/><rect x="609.3" y="109.7" width="2" height="2"/><rect x="612.3" y="109.7" width="2" height="2"/><rect x="615.3" y="109.7" width="2" height="2"/><rect x="618.3" y="109.7" width="2" height="2"/><rect x="621.3" y="109.7" width="2" height="2"/><rect x="597.3" y="112.7" width="2" height="2"/><rect x="600.3" y="112.7" width="2" height="2"/><rect x="603.3" y="112.7" width="2" height="2"/><rect x="606.3" y="112.7" width="2" height="2"/><rect x="609.3" y="112.7" width="2" height="2"/><rect x="612.3" y="112.7" width="2" height="2"/><rect x="615.3" y="112.7" width="2" height="2"/><rect x="618.3" y="112.7" width="2" height="2"/><rect x="597.3" y="115.7" width="2" height="2"/><rect x="609.3" y="115.7" width="2" height="2"/><rect x="615.3" y="115.7" width="2" height="2"/><rect x="618.3" y="115.7" width="2" height="2"/><rect x="621.3" y="115.7" width="2" height="2"/></g>
<rect x="129" y="85" width="3" height="6" fill="#b9ccd3"/>
<rect x="169.5" y="90.6" width="2.2" height="7" fill="#9fb8c0"/>
<rect x="453.6" y="82.6" width="2.2" height="5" fill="#9fb8c0"/></g>
</defs><use href="#tile"/><use href="#tile" x="640"/></g>
<text x="27.6" y="67.2" font-size="38" font-weight="700" fill="#ffffff" textLength="927" lengthAdjust="spacingAndGlyphs">GUAVA JUICE PROCESSING PLANT PROJECT REPORT</text>

<!-- divider -->
<line x1="637.2" y1="149" x2="644" y2="690" stroke="#6b6b6b" stroke-width="2.3" stroke-dasharray="7.8 6.1"/>

<!-- left: market opportunity -->
<text x="118" y="169.6" font-size="33" font-weight="700" fill="#2b4370" textLength="407" lengthAdjust="spacingAndGlyphs">Market Opportunity (US$)</text>
<rect x="25" y="184" width="3" height="184" fill="#4a2482"/>
<g fill="#a0e9fc" stroke="#4a2482" stroke-width="3">
  <rect x="26.6" y="194.6" width="190.4" height="22" rx="3.5"/>
  <rect x="26.6" y="222.9" width="214.1" height="22" rx="3.5"/>
  <rect x="26.6" y="251.2" width="251.1" height="22" rx="3.5"/>
  <rect x="26.6" y="279.5" width="288.8" height="22" rx="3.5"/>
  <rect x="26.6" y="307.8" width="324.9" height="22" rx="3.5"/>
  <rect x="26.6" y="336.1" width="359.8" height="22" rx="3.5"/>
</g>
<text x="367.5" y="224.6" font-size="21" font-weight="700" fill="#2b2f38" textLength="254" lengthAdjust="spacingAndGlyphs">The market is exhibiting a</text>
<text x="367" y="269.5" font-size="33" font-weight="700" fill="#2a4476" textLength="213" lengthAdjust="spacingAndGlyphs">CONTINUOUS</text>
<text x="367" y="301.6" font-size="21" font-weight="700" fill="#2b2f38" textLength="117" lengthAdjust="spacingAndGlyphs">growth rate</text>
<text x="27.8" y="405.5" font-size="20" font-weight="700" fill="#2b2f38" textLength="173" lengthAdjust="spacingAndGlyphs">Report Coverage:</text>

<!-- business model -->
<circle cx="315.8" cy="540.0" r="84.5" fill="none" stroke="#8d8d8d" stroke-width="1.4"/>
<path d="M317.40,481.02 A59.0,59.0 0 0 1 356.37,497.16" fill="none" stroke="#2d8fc0" stroke-width="10.5"/>
<path d="M358.64,499.43 A59.0,59.0 0 0 1 374.78,538.40" fill="none" stroke="#8ea5b8" stroke-width="10.5"/>
<path d="M374.78,541.60 A59.0,59.0 0 0 1 358.64,580.57" fill="none" stroke="#2049b8" stroke-width="10.5"/>
<path d="M356.37,582.84 A59.0,59.0 0 0 1 317.40,598.98" fill="none" stroke="#3fe0cf" stroke-width="10.5"/>
<path d="M314.20,598.98 A59.0,59.0 0 0 1 275.23,582.84" fill="none" stroke="#2d8fc0" stroke-width="10.5"/>
<path d="M272.96,580.57 A59.0,59.0 0 0 1 256.82,541.60" fill="none" stroke="#8ea5b8" stroke-width="10.5"/>
<path d="M256.82,538.40 A59.0,59.0 0 0 1 272.96,499.43" fill="none" stroke="#2049b8" stroke-width="10.5"/>
<path d="M275.23,497.16 A59.0,59.0 0 0 1 314.20,481.02" fill="none" stroke="#3fe0cf" stroke-width="10.5"/>
<circle cx="344.58" cy="470.52" r="0.85" fill="#333"/>
<circle cx="343.35" cy="473.48" r="0.85" fill="#333"/>
<circle cx="342.13" cy="476.44" r="0.85" fill="#333"/>
<circle cx="340.90" cy="479.39" r="0.85" fill="#333"/>
<circle cx="348.14" cy="461.93" r="7.9" fill="#fff" stroke="#2d8fc0" stroke-width="1.6"/>
<circle cx="348.14" cy="461.93" r="5.6" fill="#2d8fc0"/>
<circle cx="385.28" cy="511.22" r="0.85" fill="#333"/>
<circle cx="382.32" cy="512.45" r="0.85" fill="#333"/>
<circle cx="379.36" cy="513.67" r="0.85" fill="#333"/>
<circle cx="376.41" cy="514.90" r="0.85" fill="#333"/>
<circle cx="393.87" cy="507.66" r="7.9" fill="#fff" stroke="#9aa5ae" stroke-width="1.6"/>
<circle cx="393.87" cy="507.66" r="5.6" fill="#8ea0ae"/>
<circle cx="385.28" cy="568.78" r="0.85" fill="#333"/>
<circle cx="382.32" cy="567.55" r="0.85" fill="#333"/>
<circle cx="379.36" cy="566.33" r="0.85" fill="#333"/>
<circle cx="376.41" cy="565.10" r="0.85" fill="#333"/>
<circle cx="393.87" cy="572.34" r="7.9" fill="#fff" stroke="#1a3a9a" stroke-width="1.6"/>
<circle cx="393.87" cy="572.34" r="5.6" fill="#2049b8"/>
<circle cx="344.58" cy="609.48" r="0.85" fill="#333"/>
<circle cx="343.35" cy="606.52" r="0.85" fill="#333"/>
<circle cx="342.13" cy="603.56" r="0.85" fill="#333"/>
<circle cx="340.90" cy="600.61" r="0.85" fill="#333"/>
<circle cx="348.14" cy="618.07" r="7.9" fill="#fff" stroke="#6ee6da" stroke-width="1.6"/>
<circle cx="348.14" cy="618.07" r="5.6" fill="#45dccf"/>
<circle cx="287.02" cy="609.48" r="0.85" fill="#333"/>
<circle cx="288.25" cy="606.52" r="0.85" fill="#333"/>
<circle cx="289.47" cy="603.56" r="0.85" fill="#333"/>
<circle cx="290.70" cy="600.61" r="0.85" fill="#333"/>
<circle cx="283.46" cy="618.07" r="7.9" fill="#fff" stroke="#2d8fc0" stroke-width="1.6"/>
<circle cx="283.46" cy="618.07" r="5.6" fill="#2d8fc0"/>
<circle cx="246.32" cy="568.78" r="0.85" fill="#333"/>
<circle cx="249.28" cy="567.55" r="0.85" fill="#333"/>
<circle cx="252.24" cy="566.33" r="0.85" fill="#333"/>
<circle cx="255.19" cy="565.10" r="0.85" fill="#333"/>
<circle cx="237.73" cy="572.34" r="7.9" fill="#fff" stroke="#a0a0a0" stroke-width="1.6"/>
<circle cx="237.73" cy="572.34" r="5.6" fill="#9a9a9a"/>
<circle cx="246.32" cy="511.22" r="0.85" fill="#333"/>
<circle cx="249.28" cy="512.45" r="0.85" fill="#333"/>
<circle cx="252.24" cy="513.67" r="0.85" fill="#333"/>
<circle cx="255.19" cy="514.90" r="0.85" fill="#333"/>
<circle cx="237.73" cy="507.66" r="7.9" fill="#fff" stroke="#1a3a9a" stroke-width="1.6"/>
<circle cx="237.73" cy="507.66" r="5.6" fill="#2049b8"/>
<circle cx="287.02" cy="470.52" r="0.85" fill="#333"/>
<circle cx="288.25" cy="473.48" r="0.85" fill="#333"/>
<circle cx="289.47" cy="476.44" r="0.85" fill="#333"/>
<circle cx="290.70" cy="479.39" r="0.85" fill="#333"/>
<circle cx="283.46" cy="461.93" r="7.9" fill="#fff" stroke="#6ee6da" stroke-width="1.6"/>
<circle cx="283.46" cy="461.93" r="5.6" fill="#45dccf"/>

<!-- MANAGEMENT -->
<g fill="none" stroke="#3ddcc8" stroke-width="3.4">
  <path d="M244.91,406.11 A17.3,17.3 0 0 1 259.29,386.31"/>
  <path d="M268.48,387.36 A17.3,17.3 0 0 1 277.41,411.25"/>
  <path d="M271.17,418.07 A17.3,17.3 0 0 1 247.49,412.82"/>
</g>
<g fill="#3ddcc8">
  <path d="M258.3,381.8 L265.2,386.4 L258.3,391.6 Z"/>
  <path d="M273.6,408.8 L282.6,414.2 L275.2,417.4 Z"/>
  <path d="M251.6,413.2 L243.2,418.4 L242.8,410.4 Z"/>
  <path d="M257.2,405.5 H266.2 L264.7,409.2 V413.3 H259.2 V409.2 Z"/>
</g>
<circle cx="261.7" cy="401.1" r="5.7" fill="#f3f5f8" stroke="#3ddcc8" stroke-width="2.5"/>
<!-- COSTS -->
<g fill="#1c82b8">
  <path d="M368.9,387.1 H383.6 L381.7,394.5 H371.2 Z"/>
  <path d="M371.2,397.3 H381.7 L392.6,417 Q395.6,423.9 389,423.9 H363.6 Q356.8,423.9 359.8,417 Z"/>
</g>
<text x="376.3" y="418.2" font-size="15" font-weight="700" fill="#ffffff" text-anchor="middle">$</text>
<!-- DISTRIBUTION -->
<g fill="#1e4fc0" stroke="#1e4fc0">
  <line x1="184.3" y1="485.3" x2="177" y2="472.2" stroke-width="2.2"/>
  <line x1="184.3" y1="485.3" x2="177" y2="498.2" stroke-width="2.2"/>
  <line x1="184.3" y1="485.3" x2="201" y2="485.7" stroke-width="2.2"/>
  <circle cx="177" cy="472.2" r="4.7" stroke="none"/>
  <circle cx="192.1" cy="472.2" r="4.7" stroke="none"/>
  <circle cx="168.6" cy="485.7" r="4.7" stroke="none"/>
  <circle cx="201" cy="485.7" r="4.7" stroke="none"/>
  <circle cx="177" cy="498.2" r="4.7" stroke="none"/>
  <circle cx="192.1" cy="498.2" r="4.7" stroke="none"/>
  <circle cx="184.3" cy="485.3" r="5.2" fill="#ffffff" stroke-width="2.2"/>
</g>
<!-- PRODUCTS -->
<g>
  <rect x="428" y="472.1" width="14.6" height="5" fill="#999999"/>
  <rect x="450.3" y="472.1" width="14.7" height="5" fill="#999999"/>
  <path d="M428,480 H465 V500 Q465,502.8 462.2,502.8 H430.8 Q428,502.8 428,500 Z" fill="#999999"/>
  <path d="M428,480 H465 V489 H450.5 V499 H428 Z" fill="#5b9bd5"/>
  <rect x="442.6" y="479.5" width="7.7" height="5.3" fill="#f3f5f8"/>
  <rect x="451.3" y="492" width="8.7" height="5.4" fill="#ffffff"/>
</g>
<!-- SERVICES -->
<defs><clipPath id="gl"><rect x="150" y="570" width="26.5" height="50"/></clipPath></defs>
<path d="M180.73,581.40 L181.95,578.70 L186.60,580.62 L185.55,583.40 L188.70,586.55 L191.48,585.50 L193.40,590.15 L190.70,591.37 L190.70,595.83 L193.40,597.05 L191.48,601.70 L188.70,600.65 L185.55,603.80 L186.60,606.58 L181.95,608.50 L180.73,605.80 L176.27,605.80 L175.05,608.50 L170.40,606.58 L171.45,603.80 L168.30,600.65 L165.52,601.70 L163.60,597.05 L166.30,595.83 L166.30,591.37 L163.60,590.15 L165.52,585.50 L168.30,586.55 L171.45,583.40 L170.40,580.62 L175.05,578.70 L176.27,581.40 Z" fill="#8f8f8f"/>
<path d="M180.73,581.40 L181.95,578.70 L186.60,580.62 L185.55,583.40 L188.70,586.55 L191.48,585.50 L193.40,590.15 L190.70,591.37 L190.70,595.83 L193.40,597.05 L191.48,601.70 L188.70,600.65 L185.55,603.80 L186.60,606.58 L181.95,608.50 L180.73,605.80 L176.27,605.80 L175.05,608.50 L170.40,606.58 L171.45,603.80 L168.30,600.65 L165.52,601.70 L163.60,597.05 L166.30,595.83 L166.30,591.37 L163.60,590.15 L165.52,585.50 L168.30,586.55 L171.45,583.40 L170.40,580.62 L175.05,578.70 L176.27,581.40 Z" fill="#5a9bd0" clip-path="url(#gl)"/>
<circle cx="178.5" cy="593.6" r="6.9" fill="#f3f5f8"/>
<path d="M195.36,569.16 L195.35,567.20 L199.05,567.20 L199.04,569.16 L201.77,570.74 L203.46,569.75 L205.31,572.96 L203.61,573.93 L203.61,577.07 L205.31,578.04 L203.46,581.25 L201.77,580.26 L199.04,581.84 L199.05,583.80 L195.35,583.80 L195.36,581.84 L192.63,580.26 L190.94,581.25 L189.09,578.04 L190.79,577.07 L190.79,573.93 L189.09,572.96 L190.94,569.75 L192.63,570.74 Z" fill="#8f8f8f"/>
<circle cx="197.2" cy="575.5" r="3.5" fill="#f3f5f8"/>
<!-- REVENUE -->
<path d="M424.1,589.3 H430 Q431.3,589.5 431.5,591.8 L436.5,591.6 L450,596.3 L451.8,592.4 L456,590.7 L460,590.6 L464,591.2 L467.5,592.2 Q469.6,593.5 468.2,595.2 L452.2,607.2 Q450.2,608.8 447.4,608.8 H424.1 Z" fill="#1f4ac4"/>
<path d="M439.3,600.5 H449.3 Q453.4,600.4 453.5,597.4 Q453.4,595.1 451.2,593.6" fill="none" stroke="#f3f5f8" stroke-width="1.5"/>
<circle cx="445.4" cy="585.5" r="4.3" fill="none" stroke="#1c3fa8" stroke-width="1.9"/>
<circle cx="453.3" cy="575.8" r="3.2" fill="none" stroke="#1c3fa8" stroke-width="1.7"/>
<!-- CUSTOMERS -->
<g fill="#1a86bd">
  <circle cx="262.4" cy="649.4" r="9.5"/>
  <path d="M243.9,675.9 V671 Q243.9,661.9 255,661.9 H270 Q281.1,661.9 281.1,671 V675.9 Z"/>
</g>
<path d="M258,665 H266.8 L264.3,670 L266.2,676 H258.6 L260.5,670 Z" fill="#f3f5f8"/>
<!-- COMPETENCIES -->
<path fill-rule="evenodd" fill="#40e2ce" d="M364.9,639.1 H387.6 V652.9 Q387.6,654.4 386.1,654.4 H366.4 Q364.9,654.4 364.9,652.9 Z M367.8,643.6 H384.7 V651.2 H367.8 Z M354.1,661.5 H374.5 V674.3 Q374.5,675.8 373.0,675.8 H355.6 Q354.1,675.8 354.1,674.3 Z M357,665.9 H372 V673 H357 Z M378,661.5 H398.8 V674.3 Q398.8,675.8 397.3,675.8 H379.5 Q378,675.8 378,674.3 Z M381,665.9 H396 V673 H381 Z M374.8,654 H377.7 V657.2 H374.8 Z M363,657 H389.8 V659 H363 Z M363.3,658.5 H365.6 V662 H363.3 Z M387.3,658.5 H389.6 V662 H387.3 Z"/>
<!-- labels -->
<g font-size="9.6" fill="#25253f">
  <text x="229" y="439.6" textLength="67.2" lengthAdjust="spacingAndGlyphs">MANAGEMENT</text>
  <text x="360.3" y="439.6" textLength="33.9" lengthAdjust="spacingAndGlyphs">COSTS</text>
  <text x="152" y="518.9" textLength="66" lengthAdjust="spacingAndGlyphs">DISTRIBUTION</text>
  <text x="421.2" y="518.9" textLength="52.4" lengthAdjust="spacingAndGlyphs">PRODUCTS</text>
  <text x="162.4" y="624.5" textLength="46.1" lengthAdjust="spacingAndGlyphs">SERVICES</text>
  <text x="425" y="624.3" textLength="44.8" lengthAdjust="spacingAndGlyphs">REVENUE</text>
  <text x="232" y="691.5" textLength="60.9" lengthAdjust="spacingAndGlyphs">CUSTOMERS</text>
  <text x="340" y="691.5" textLength="73.2" lengthAdjust="spacingAndGlyphs">COMPETENCIES</text>
</g>
<!-- center text -->
<g fill="#1a1f4a" text-anchor="middle">
  <text x="315.9" y="533.7" font-size="15.4" font-weight="700" textLength="77.6" lengthAdjust="spacingAndGlyphs">BUSINESS</text>
  <text x="316.2" y="549.8" font-size="15.4" font-weight="700" textLength="56" lengthAdjust="spacingAndGlyphs">MODEL</text>
  <text x="316.1" y="565.3" font-size="10.4" textLength="52" lengthAdjust="spacingAndGlyphs">CONCEPT</text>
</g>


<!-- right: ring & circles -->
<circle cx="964" cy="420.5" r="205.8" fill="none" stroke="#d3dfe9" stroke-width="19.6"/>
<g id="circles">
  <ellipse cx="963.8" cy="209.0" rx="72.8" ry="67.8" fill="#02a0e2"/>
  <ellipse cx="963.8" cy="209.0" rx="70.6" ry="65.6" fill="none" stroke="url(#bev)" stroke-width="1.6"/>
  <ellipse cx="781.2" cy="314.5" rx="68.3" ry="67.2" fill="#6392c3"/>
  <ellipse cx="781.2" cy="314.5" rx="66.1" ry="65.0" fill="none" stroke="url(#bev)" stroke-width="1.6"/>
  <ellipse cx="1146.3" cy="314.5" rx="68.1" ry="67.2" fill="#174f63"/>
  <ellipse cx="1146.3" cy="314.5" rx="65.9" ry="65.0" fill="none" stroke="url(#bev)" stroke-width="1.6"/>
  <ellipse cx="964.0" cy="420.7" rx="97.3" ry="97.0" fill="#9de7fd"/>
  <ellipse cx="964.0" cy="420.7" rx="95.1" ry="94.8" fill="none" stroke="url(#bev)" stroke-width="1.6"/>
  <ellipse cx="781.1" cy="525.9" rx="68.2" ry="67.5" fill="#b08f48"/>
  <ellipse cx="781.1" cy="525.9" rx="66.0" ry="65.3" fill="none" stroke="url(#bev)" stroke-width="1.6"/>
  <ellipse cx="1146.3" cy="525.9" rx="68.2" ry="67.5" fill="#923f67"/>
  <ellipse cx="1146.3" cy="525.9" rx="66.0" ry="65.3" fill="none" stroke="url(#bev)" stroke-width="1.6"/>
  <ellipse cx="964.1" cy="630.5" rx="68.1" ry="67.2" fill="#98609a"/>
  <ellipse cx="964.1" cy="630.5" rx="65.9" ry="65.0" fill="none" stroke="url(#bev)" stroke-width="1.6"/>
</g>
<g font-weight="700" fill="#ffffff">
<text x="948.20" y="204.4" font-size="14.5" textLength="29.51" lengthAdjust="spacingAndGlyphs">Risk</text>
<text x="915.80" y="222.9" font-size="14.5" textLength="95.62" lengthAdjust="spacingAndGlyphs">Management</text>
<text x="747.50" y="299.4" font-size="14.5" textLength="67.06" lengthAdjust="spacingAndGlyphs">Informed</text>
<text x="750.90" y="319.2" font-size="14.5" textLength="61.68" lengthAdjust="spacingAndGlyphs">Decision</text>
<text x="754.60" y="338.0" font-size="14.5" textLength="54.74" lengthAdjust="spacingAndGlyphs">Making</text>
<text x="1111.90" y="319.4" font-size="14.5" textLength="68.25" lengthAdjust="spacingAndGlyphs">Valuation</text>
<text x="923.60" y="412.3" font-size="21.5" textLength="79.82" lengthAdjust="spacingAndGlyphs">Uses of</text>
<text x="901.00" y="441.3" font-size="21.5" textLength="126.55" lengthAdjust="spacingAndGlyphs">Cost Model</text>
<text x="755.90" y="521.1" font-size="14.5" textLength="52.08" lengthAdjust="spacingAndGlyphs">Raising</text>
<text x="757.10" y="539.6" font-size="14.5" textLength="50.34" lengthAdjust="spacingAndGlyphs">Capital</text>
<text x="927.80" y="616.7" font-size="14.5" textLength="73.95" lengthAdjust="spacingAndGlyphs">Budgeting</text>
<text x="950.00" y="635.6" font-size="14.5" textLength="27.47" lengthAdjust="spacingAndGlyphs">and</text>
<text x="922.20" y="654.0" font-size="14.5" textLength="83.44" lengthAdjust="spacingAndGlyphs">Forecasting</text>
<text x="1100.40" y="520.6" font-size="14.5" textLength="91.05" lengthAdjust="spacingAndGlyphs">Mergers and</text>
<text x="1103.20" y="539.7" font-size="14.5" textLength="87.81" lengthAdjust="spacingAndGlyphs">Acquisitions</text>
</g>

<!-- logo -->
<g fill="none" stroke="#1ba3e6" stroke-width="6">
  <circle cx="1087.3" cy="664.3" r="3.6" fill="#1ba3e6" stroke="none"/>
  <path d="M1083.1,681.4 H1087.3 M1087.3,678.9 V701.7" stroke-width="5"/>
  <path d="M1095.25,678.9 V701.7 M1095.25,690.3 A8.4,8.4 0 0 1 1112,690.3 V701.7 M1112,690.3 A8.5,8.5 0 0 1 1130.2,690.3 V701.7"/>
  <circle cx="1148.3" cy="690.3" r="8.4"/>
  <path d="M1156.45,678.9 V701.7" stroke-width="5.6"/>
  <path d="M1165.35,678.9 V701.7 M1165.35,690.3 A8.4,8.4 0 0 1 1173.7,681.9 H1180.6"/>
  <path d="M1200.4,684.6 A8.4,8.4 0 1 0 1200.4,696"/>
</g>
<rect x="1205.8" y="679" width="2.2" height="22.5" fill="#111"/>
<g font-size="7.6" font-weight="700" fill="#1d1d1d">
  <text x="1212" y="687.5" textLength="47" lengthAdjust="spacingAndGlyphs">IMPACTFUL</text>
  <text x="1212" y="697" textLength="39" lengthAdjust="spacingAndGlyphs">INSIGHTS</text>
</g>

</svg>
</body></html>
